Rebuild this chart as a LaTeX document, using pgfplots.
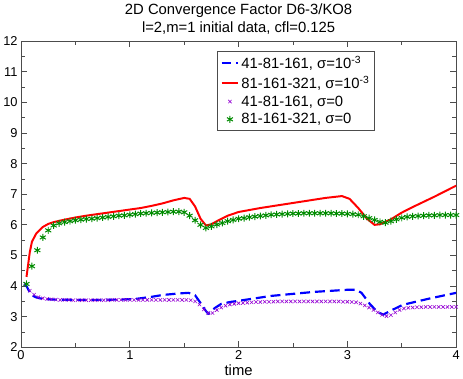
\documentclass[border=0pt]{standalone}
\usepackage{fontspec}
\setmainfont{Liberation Sans}
\usepackage{pgfplots}
\pgfplotsset{compat=1.18}
\definecolor{gblue}{RGB}{0,0,255}
\definecolor{gred}{RGB}{255,0,0}
\definecolor{gviolet}{RGB}{148,0,211}
\definecolor{ggreen}{RGB}{0,139,0}

\begin{document}
\begin{tikzpicture}
\begin{axis}[
  scale only axis,
  width=439bp, height=309bp,
  xmin=0, xmax=4, ymin=2, ymax=12,
  xtick={0,1,2,3,4}, ytick={2,3,...,12},
  minor x tick num=1, minor y tick num=1,
  tick align=inside,
  major tick length=6bp, minor tick length=4bp,
  tick style={black!70, line width=0.8pt},
  axis line style={black!70, line width=1pt},
  /pgf/number format/assume math mode=true,
  tick label style={font=\fontsize{13}{15}\selectfont},
  xlabel={time},
  xlabel style={font=\fontsize{15}{17}\selectfont, yshift=2bp},
  title={2D Convergence Factor D6-3/KO8\\l=2,m=1 initial data, cfl=0.125},
  title style={font=\fontsize{15}{19}\selectfont, align=center, yshift=-3bp},
  legend style={at={(0.451,0.968)}, anchor=north west, draw=black!70,
    font=\fontsize{15}{16}\selectfont, row sep=2bp, inner sep=3bp},
  legend cell align=left,
]
\addplot[gblue, line width=2.2pt, dash pattern=on 10bp off 5bp] coordinates {
(0.03,4.08) (0.05,4.00) (0.08,3.80) (0.10,3.70) (0.14,3.63) (0.20,3.58)
(0.30,3.56) (0.50,3.55) (0.70,3.55) (0.90,3.56) (1.05,3.58) (1.20,3.65)
(1.30,3.71) (1.45,3.76) (1.54,3.78) (1.60,3.70) (1.65,3.45) (1.69,3.23)
(1.72,3.10) (1.78,3.28) (1.84,3.42) (1.92,3.48) (2.00,3.52) (2.30,3.68)
(2.69,3.81) (3.00,3.88) (3.08,3.88) (3.13,3.78) (3.21,3.40) (3.28,3.15)
(3.33,3.07) (3.40,3.20) (3.51,3.39) (3.75,3.59) (4.00,3.78)};
\addlegendentry{41-81-161, σ=10\textsuperscript{-3}}
\addplot[gred, line width=2pt] coordinates {
(0.05,4.30) (0.08,5.10) (0.10,5.45) (0.14,5.72) (0.20,5.93) (0.25,6.03)
(0.30,6.09) (0.40,6.17) (0.50,6.24) (0.60,6.30) (0.80,6.40) (1.00,6.50)
(1.10,6.55) (1.20,6.62) (1.30,6.70) (1.40,6.80) (1.50,6.88) (1.55,6.85)
(1.60,6.60) (1.65,6.20) (1.70,5.98) (1.75,6.02) (1.80,6.12) (1.90,6.30)
(2.00,6.42) (2.20,6.55) (2.40,6.66) (2.60,6.77) (2.80,6.88) (2.95,6.94)
(3.02,6.85) (3.10,6.55) (3.18,6.20) (3.25,6.00) (3.30,6.02) (3.40,6.18)
(3.50,6.40) (3.60,6.58) (3.80,6.92) (4.00,7.28)};
\addlegendentry{81-161-321, σ=10\textsuperscript{-3}}
\addplot[only marks, mark=x, mark size=2.4bp, gviolet, mark options={line width=0.6pt}] coordinates {
(0.04,4.08) (0.08,3.85) (0.12,3.72) (0.16,3.64) (0.20,3.60) (0.24,3.58)
(0.28,3.57) (0.32,3.56) (0.36,3.55) (0.40,3.55) (0.44,3.55) (0.48,3.54)
(0.52,3.54) (0.56,3.54) (0.60,3.54) (0.64,3.54) (0.68,3.54) (0.72,3.54)
(0.76,3.54) (0.80,3.54) (0.84,3.55) (0.88,3.55) (0.92,3.55) (0.96,3.55)
(1.00,3.55) (1.04,3.55) (1.08,3.55) (1.12,3.55) (1.16,3.55) (1.20,3.55)
(1.24,3.55) (1.28,3.55) (1.32,3.55) (1.36,3.55) (1.40,3.55) (1.44,3.55)
(1.48,3.55) (1.52,3.55) (1.56,3.54) (1.60,3.50) (1.64,3.40) (1.68,3.24)
(1.72,3.12) (1.76,3.12) (1.80,3.22) (1.84,3.30) (1.88,3.36) (1.92,3.40)
(1.96,3.42) (2.00,3.44) (2.04,3.45) (2.08,3.46) (2.12,3.47) (2.16,3.48)
(2.20,3.48) (2.24,3.49) (2.28,3.49) (2.32,3.49) (2.36,3.50) (2.40,3.50)
(2.44,3.50) (2.48,3.50) (2.52,3.50) (2.56,3.50) (2.60,3.50) (2.64,3.50)
(2.68,3.50) (2.72,3.50) (2.76,3.50) (2.80,3.50) (2.84,3.50) (2.88,3.50)
(2.92,3.50) (2.96,3.49) (3.00,3.49) (3.04,3.48) (3.08,3.47) (3.12,3.43)
(3.16,3.37) (3.20,3.30) (3.24,3.22) (3.28,3.14) (3.32,3.06) (3.36,3.02)
(3.40,3.05) (3.44,3.14) (3.48,3.22) (3.52,3.27) (3.56,3.29) (3.60,3.30)
(3.64,3.31) (3.68,3.31) (3.72,3.32) (3.76,3.32) (3.80,3.32) (3.84,3.32)
(3.88,3.32) (3.92,3.32) (3.96,3.32) (4.00,3.32)};
\addlegendentry{41-81-161, σ=0}
\addplot[only marks, mark=asterisk, mark size=3.5bp, ggreen, mark options={line width=1pt}] coordinates {
(0.05,4.07) (0.10,4.65) (0.15,5.17) (0.20,5.59) (0.25,5.82) (0.30,5.98)
(0.35,6.05) (0.40,6.09) (0.45,6.12) (0.50,6.15) (0.55,6.17) (0.60,6.19)
(0.65,6.20) (0.70,6.22) (0.75,6.24) (0.80,6.26) (0.85,6.28) (0.90,6.30)
(0.95,6.31) (1.00,6.33) (1.05,6.35) (1.10,6.37) (1.15,6.38) (1.20,6.39)
(1.25,6.40) (1.30,6.41) (1.35,6.42) (1.40,6.43) (1.45,6.43) (1.50,6.41)
(1.55,6.30) (1.60,6.15) (1.65,6.00) (1.70,5.90) (1.75,5.95) (1.80,6.01)
(1.85,6.06) (1.90,6.12) (1.95,6.16) (2.00,6.20) (2.05,6.22) (2.10,6.25)
(2.15,6.27) (2.20,6.29) (2.25,6.31) (2.30,6.33) (2.35,6.34) (2.40,6.35)
(2.45,6.36) (2.50,6.37) (2.55,6.37) (2.60,6.38) (2.65,6.38) (2.70,6.38)
(2.75,6.38) (2.80,6.38) (2.85,6.38) (2.90,6.37) (2.95,6.37) (3.00,6.36)
(3.05,6.35) (3.10,6.33) (3.15,6.28) (3.20,6.22) (3.25,6.16) (3.30,6.10)
(3.35,6.07) (3.40,6.12) (3.45,6.18) (3.50,6.23) (3.55,6.26) (3.60,6.28)
(3.65,6.29) (3.70,6.30) (3.75,6.31) (3.80,6.31) (3.85,6.32) (3.90,6.32)
(3.95,6.32) (4.00,6.32)};
\addlegendentry{81-161-321, σ=0}
\end{axis}
\end{tikzpicture}
\end{document}
